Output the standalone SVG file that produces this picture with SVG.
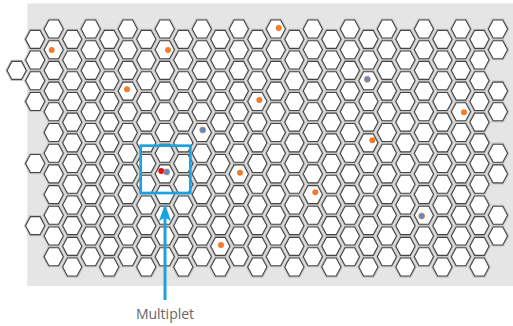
<svg xmlns="http://www.w3.org/2000/svg" width="513" height="326" viewBox="0 0 513 326">
<style>
.bg{fill:#e5e5e5}
.under{fill:#fff;stroke:#c4c4c4;stroke-width:3.2}
.cells{fill:#fff;stroke:#444;stroke-width:1.1}
.dot-o{fill:#f47b2a}
.dot-b{fill:#4f8fd6;stroke:#f47b2a;stroke-width:0.7}
.dot-r{fill:#e8100c}
.blue-line{stroke:#1aa3e0;fill:none}
.blue-fill{fill:#1aa3e0}
.label{font-family:"Open Sans","Liberation Sans",sans-serif;font-size:14px;fill:#666}
</style>
<defs>
<polygon id="h" points="-9.6,0 -4.8,-9 4.8,-9 9.6,0 4.8,9 -4.8,9"/>
<g id="ec">
<use href="#h" y="29"/><use href="#h" y="49.7"/><use href="#h" y="70.4"/><use href="#h" y="91.1"/><use href="#h" y="111.8"/><use href="#h" y="132.5"/><use href="#h" y="153.2"/><use href="#h" y="173.9"/><use href="#h" y="194.6"/><use href="#h" y="215.3"/><use href="#h" y="236"/><use href="#h" y="256.7"/>
</g>
<g id="oc">
<use href="#h" y="39.35"/><use href="#h" y="60.05"/><use href="#h" y="80.75"/><use href="#h" y="101.45"/><use href="#h" y="122.15"/><use href="#h" y="142.85"/><use href="#h" y="163.55"/><use href="#h" y="184.25"/><use href="#h" y="204.95"/><use href="#h" y="225.65"/><use href="#h" y="246.35"/><use href="#h" y="267.05"/>
</g>
<g id="cells">
<use href="#h" x="16.7" y="70.4"/>
<use href="#h" x="35.21" y="39.35"/><use href="#h" x="35.21" y="60.05"/><use href="#h" x="35.21" y="80.75"/><use href="#h" x="35.21" y="101.45"/><use href="#h" x="35.21" y="163.55"/><use href="#h" x="35.21" y="225.65"/>
<use href="#ec" x="53.72"/><use href="#oc" x="72.23"/>
<use href="#ec" x="90.74"/><use href="#oc" x="109.25"/>
<use href="#ec" x="127.76"/><use href="#oc" x="146.27"/>
<use href="#ec" x="164.78"/><use href="#oc" x="183.29"/>
<use href="#ec" x="201.8"/><use href="#oc" x="220.31"/>
<use href="#ec" x="238.82"/><use href="#oc" x="257.33"/>
<use href="#ec" x="275.84"/><use href="#oc" x="294.35"/>
<use href="#ec" x="312.86"/><use href="#oc" x="331.37"/>
<use href="#ec" x="349.88"/><use href="#oc" x="368.39"/>
<use href="#ec" x="386.9"/><use href="#oc" x="405.41"/>
<use href="#ec" x="423.92"/><use href="#oc" x="442.43"/>
<use href="#ec" x="460.94"/><use href="#oc" x="479.45"/>
<use href="#h" x="497.96" y="29"/><use href="#h" x="497.96" y="49.7"/><use href="#h" x="497.96" y="91.1"/><use href="#h" x="497.96" y="111.8"/><use href="#h" x="497.96" y="153.2"/><use href="#h" x="497.96" y="173.9"/><use href="#h" x="497.96" y="215.3"/><use href="#h" x="497.96" y="236"/>
</g>
</defs>
<rect id="background" class="bg" x="27.3" y="3.3" width="485.7" height="282.7"/>
<g id="grid">
<use href="#cells" class="under"/>
<use href="#cells" class="cells"/>
</g>
<g id="events">
<g id="e1"><circle class="dot-o" cx="51.7" cy="50" r="3"/></g>
<g id="e2"><circle class="dot-o" cx="168" cy="50" r="3"/></g>
<g id="e3"><circle class="dot-o" cx="127" cy="89.3" r="3"/></g>
<g id="e4"><circle class="dot-o" cx="278.7" cy="28" r="3"/></g>
<g id="e5"><circle class="dot-o" cx="259.3" cy="100" r="3"/></g>
<g id="e6"><circle class="dot-o" cx="464" cy="112.3" r="3"/></g>
<g id="e7"><circle class="dot-o" cx="372.3" cy="140.3" r="3"/></g>
<g id="e8"><circle class="dot-o" cx="240" cy="172.7" r="3"/></g>
<g id="e9"><circle class="dot-o" cx="315.3" cy="192.3" r="3"/></g>
<g id="e10"><circle class="dot-o" cx="221" cy="245" r="3"/></g>
<g id="e11"><circle class="dot-b" cx="202.7" cy="130" r="3"/></g>
<g id="e12"><circle class="dot-b" cx="367.3" cy="79.3" r="3"/></g>
<g id="e13"><circle class="dot-b" cx="421.7" cy="216" r="3"/></g>
<g id="multiplet-dots"><circle class="dot-r" cx="161.3" cy="171" r="3"/><circle class="dot-b" cx="166.7" cy="172" r="3"/></g>
</g>
<g id="multiplet-box"><rect class="blue-line" x="140.7" y="145.7" width="49.6" height="47.3" stroke-width="2.7"/></g>
<g id="connectors">
<line class="blue-line" x1="165" y1="300" x2="165" y2="214" stroke-width="3"/>
<polygon class="blue-fill" points="165,204 171,221 165,217.5 159,221"/>
</g>
<g id="label"><text class="label" x="165" y="319" text-anchor="middle">Multiplet</text></g>
</svg>
